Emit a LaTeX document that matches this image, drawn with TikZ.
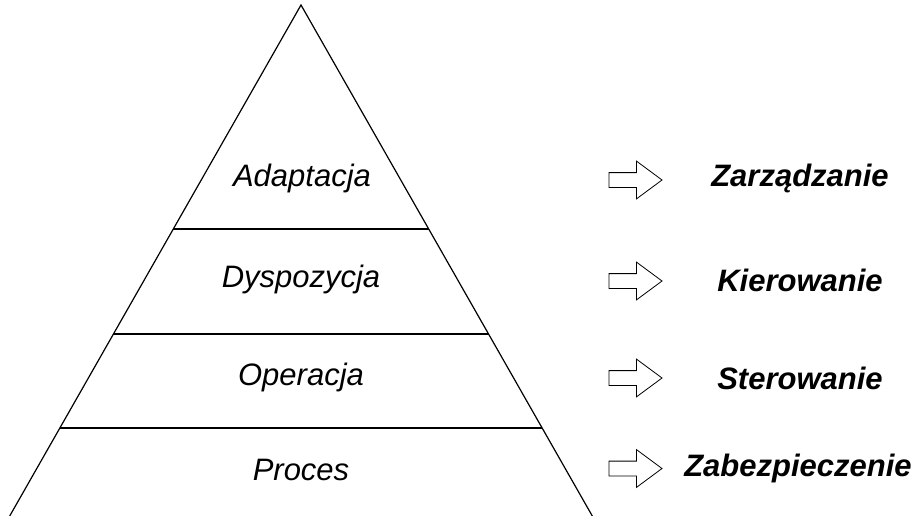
\documentclass[tikz,border=0pt]{standalone}
\usepackage{fontspec}
\setmainfont{Liberation Sans}
\usetikzlibrary{shapes.arrows,calc}
\tikzset{
  level/.style={font=\fontsize{31}{36}\selectfont\itshape},
  role/.style={font=\fontsize{31}{36}\selectfont\bfseries\itshape},
  hollow/.style={single arrow,draw,line width=0.8pt,inner sep=7pt,minimum height=53pt,
    single arrow head extend=11.5pt,single arrow tip angle=73}
}
\begin{document}
\begin{tikzpicture}[x=1pt,y=-1pt,line width=1.2pt]
      \useasboundingbox (0,0) rectangle (923,516);
      \begin{scope}
        \clip (0,0) rectangle (923,516);
        \coordinate (apex) at (301,5);
        \coordinate (bl) at (9.7,516);
        \coordinate (br) at (592.3,516);
        \draw (bl) -- (apex) -- (br);
        \draw ($(apex)!0.4384!(bl)$) -- ($(apex)!0.4384!(br)$);
        \draw ($(apex)!0.6438!(bl)$) -- ($(apex)!0.6438!(br)$);
        \draw ($(apex)!0.8278!(bl)$) -- ($(apex)!0.8278!(br)$);
      \end{scope}

      \node[level] (adapt) at (302,178) {Adaptacja};
      \node[level] (dysp) at (301,279) {Dyspozycja};
      \node[level] (oper) at (301,377) {Operacja};
      \node[level] (proc) at (301,470) {Proces};

      \node[hollow] (a1) at (630.5,180) {};
      \node[hollow] (a2) at (630.5,281) {};
      \node[hollow] (a3) at (630.5,378) {};
      \node[hollow] (a4) at (630.5,468.5) {};

      \node[role] (zarz) at (800,178) {Zarządzanie};
      \node[role] (kier) at (800,280) {Kierowanie};
      \node[role] (ster) at (800,378) {Sterowanie};
      \node[role] (zabe) at (798,468) {Zabezpieczenie};
    \end{tikzpicture}
\end{document}
